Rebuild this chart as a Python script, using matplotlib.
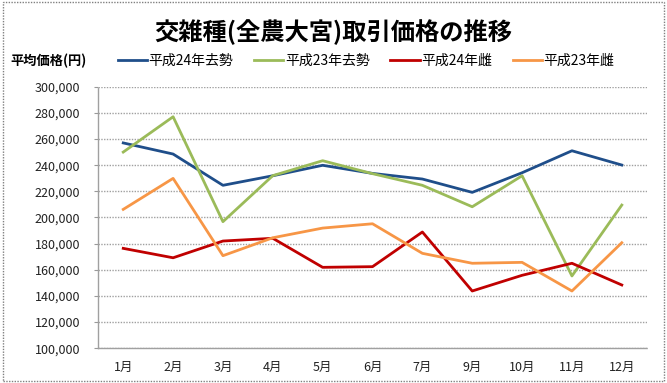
import matplotlib.pyplot as plt
from matplotlib.patches import Rectangle
from matplotlib.ticker import FuncFormatter

plt.rcParams['font.family'] = ['Noto Sans CJK JP', 'DejaVu Sans']

# Data
months = ["1月", "2月", "3月", "4月", "5月", "6月", "7月", "9月", "10月", "11月", "12月"]
h24_steer = [257000, 248500, 224600, 231900, 239900, 233700, 229400, 219200, 234200, 251000, 240100]
h23_steer = [250000, 277000, 196800, 232000, 243400, 233500, 224600, 208200, 231900, 155300, 209500]
h24_heifer = [176400, 169200, 182000, 184100, 161900, 162400, 188900, 143800, 155800, 165000, 148400]
h23_heifer = [206200, 229900, 170800, 184500, 191900, 195200, 172600, 165000, 165700, 143800, 180700]

series = [
    ("平成24年去勢", h24_steer, "#1F4E8A"),
    ("平成23年去勢", h23_steer, "#9BBB59"),
    ("平成24年雌", h24_heifer, "#C00000"),
    ("平成23年雌", h23_heifer, "#F79646"),
]

fig = plt.figure(figsize=(6.67, 3.83), dpi=100)
ax = fig.add_axes([0.1474, 0.0906, 0.8222, 0.6831])

x = range(len(months))
for name, vals, col in series:
    ax.plot(x, vals, color=col, lw=2.0, label=name)

ax.set_xlim(-0.5, len(months) - 0.5)
ax.set_ylim(100000, 300000)
ax.set_yticks(range(100000, 300001, 20000))
ax.yaxis.set_major_formatter(FuncFormatter(lambda v, p: f"{int(v):,}"))
ax.set_xticks(list(x))
ax.set_xticklabels(months)
ax.tick_params(axis='y', labelsize=9, length=3, color='#999999', pad=10)
ax.tick_params(axis='x', labelsize=9, length=0, pad=9)
for lbl in ax.get_xticklabels() + ax.get_yticklabels():
    lbl.set_color('#222222')

ax.grid(axis='y', color='#A0A0A0', linestyle=(0, (1, 1)), lw=1.0)
ax.set_axisbelow(True)
for s in ['top', 'right']:
    ax.spines[s].set_visible(False)
for s in ['left', 'bottom']:
    ax.spines[s].set_color('#A0A0A0')
    ax.spines[s].set_linestyle((0, (1, 1)))
    ax.spines[s].set_linewidth(1.0)

fig.text(0.5, 0.915, "交雑種(全農大宮)取引価格の推移", ha='center', va='center',
         fontsize=17.5, fontweight='bold')
fig.text(0.015, 0.84, "平均価格(円)", ha='left', va='center', fontsize=9.5, fontweight='bold')

fig.legend(loc='center left', bbox_to_anchor=(0.177, 0.84), ncol=4, frameon=False,
           fontsize=10, handlelength=2.1, handletextpad=0.1, columnspacing=1.5,
           borderaxespad=0, borderpad=0)

fig.patches.append(Rectangle((0.004, 0.006), 0.991, 0.988, transform=fig.transFigure,
                             fill=False, edgecolor='#808080', lw=1.0,
                             linestyle=(0, (1, 1))))

fig.savefig("out.png", dpi=100)
